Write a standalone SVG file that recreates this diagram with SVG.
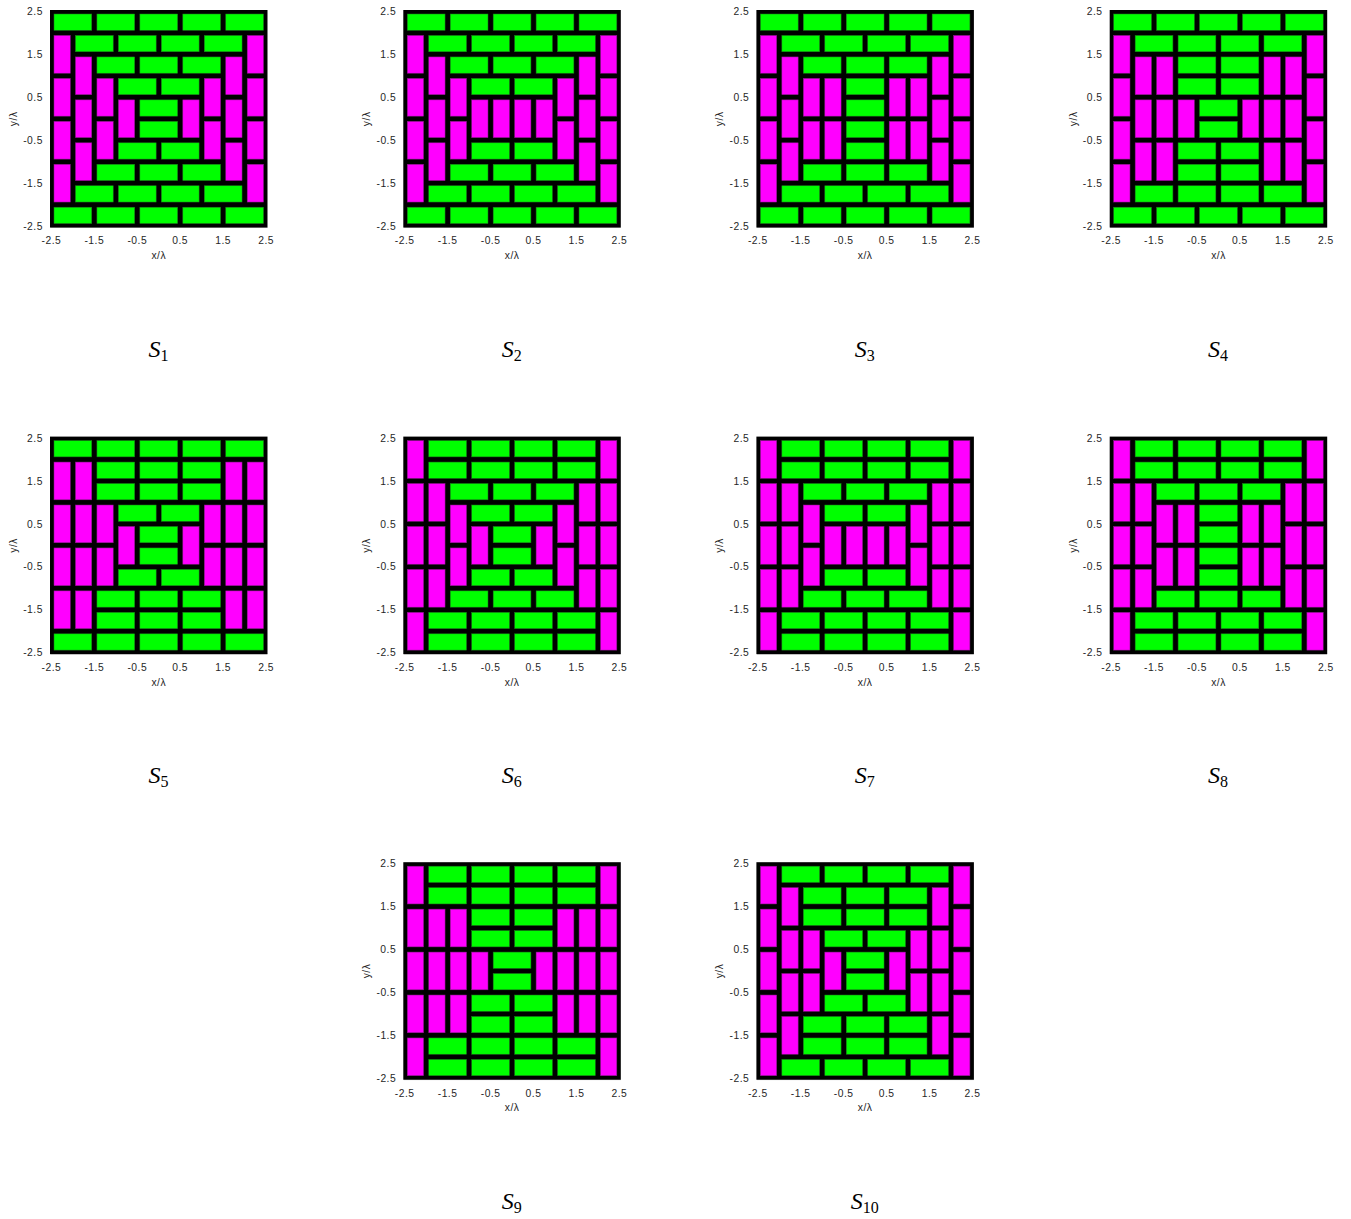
<svg xmlns="http://www.w3.org/2000/svg" xmlns:xlink="http://www.w3.org/1999/xlink" width="1351" height="1219" viewBox="0 0 1351 1219">
<style>
.t{font-family:"Liberation Sans",Arial,sans-serif;font-size:10.3px;letter-spacing:0.5px;fill:#262626}
.yt{text-anchor:end}
.xt{text-anchor:middle}
.lab{font-family:"Liberation Sans",Arial,sans-serif;font-size:10.3px;letter-spacing:0.5px;fill:#262626;text-anchor:middle}
.s{font-family:"Liberation Serif","Times New Roman",serif;font-style:italic;font-size:24px;fill:#000;text-anchor:middle}
.sub{font-style:normal;font-size:16px}
.ax{stroke:#b0b0b0;stroke-width:1;fill:none}
</style>
<defs>
<rect id="h" x="0.121" y="0.121" width="1.758" height="0.758" fill="#00ff00" stroke="#1c7a1c" stroke-width="0.025"/>
<rect id="v" x="0.121" y="0.121" width="0.758" height="1.758" fill="#ff00ff" stroke="#8a1a8a" stroke-width="0.025"/>
<g id="ticks">
<text class="t yt" x="-8.5" y="3.6">2.5</text>
<text class="t yt" x="-8.5" y="46.5">1.5</text>
<text class="t yt" x="-8.5" y="89.5">0.5</text>
<text class="t yt" x="-8.5" y="132.4">-0.5</text>
<text class="t yt" x="-8.5" y="175.4">-1.5</text>
<text class="t yt" x="-8.5" y="218.3">-2.5</text>
<text class="t xt" x="0" y="233">-2.5</text>
<text class="t xt" x="42.9" y="233">-1.5</text>
<text class="t xt" x="85.9" y="233">-0.5</text>
<text class="t xt" x="128.8" y="233">0.5</text>
<text class="t xt" x="171.8" y="233">1.5</text>
<text class="t xt" x="214.7" y="233">2.5</text>
<text class="lab" x="107.4" y="247.8">x/λ</text>
<text class="lab" transform="translate(-34.5,107.4) rotate(-90)">y/λ</text>
<line class="ax" x1="-1" y1="216" x2="216" y2="216"/>
<rect x="-1.4" y="-1.4" width="217.5" height="217.5" fill="#000"/>
</g>
</defs>

<g id="S1" transform="translate(51.4,11.4)">
<use href="#ticks"/>
<text class="s" x="107" y="345.3">S<tspan class="sub" dy="4">1</tspan></text>
<g transform="scale(21.47)">
<use href="#h" x="0" y="0"/><use href="#h" x="2" y="0"/><use href="#h" x="4" y="0"/><use href="#h" x="6" y="0"/><use href="#h" x="8" y="0"/>
<use href="#h" x="1" y="1"/><use href="#h" x="3" y="1"/><use href="#h" x="5" y="1"/><use href="#h" x="7" y="1"/>
<use href="#h" x="2" y="2"/><use href="#h" x="4" y="2"/><use href="#h" x="6" y="2"/>
<use href="#h" x="3" y="3"/><use href="#h" x="5" y="3"/>
<use href="#h" x="4" y="4"/><use href="#h" x="4" y="5"/>
<use href="#h" x="3" y="6"/><use href="#h" x="5" y="6"/>
<use href="#h" x="2" y="7"/><use href="#h" x="4" y="7"/><use href="#h" x="6" y="7"/>
<use href="#h" x="1" y="8"/><use href="#h" x="3" y="8"/><use href="#h" x="5" y="8"/><use href="#h" x="7" y="8"/>
<use href="#h" x="0" y="9"/><use href="#h" x="2" y="9"/><use href="#h" x="4" y="9"/><use href="#h" x="6" y="9"/><use href="#h" x="8" y="9"/>
<use href="#v" x="0" y="1"/><use href="#v" x="9" y="1"/>
<use href="#v" x="1" y="2"/><use href="#v" x="8" y="2"/>
<use href="#v" x="0" y="3"/><use href="#v" x="2" y="3"/><use href="#v" x="7" y="3"/><use href="#v" x="9" y="3"/>
<use href="#v" x="1" y="4"/><use href="#v" x="3" y="4"/><use href="#v" x="6" y="4"/><use href="#v" x="8" y="4"/>
<use href="#v" x="0" y="5"/><use href="#v" x="2" y="5"/><use href="#v" x="7" y="5"/><use href="#v" x="9" y="5"/>
<use href="#v" x="1" y="6"/><use href="#v" x="8" y="6"/>
<use href="#v" x="0" y="7"/><use href="#v" x="9" y="7"/>
</g>
</g>

<g id="S2" transform="translate(404.7,11.4)">
<use href="#ticks"/>
<text class="s" x="107" y="345.3">S<tspan class="sub" dy="4">2</tspan></text>
<g transform="scale(21.47)">
<use href="#h" x="0" y="0"/><use href="#h" x="2" y="0"/><use href="#h" x="4" y="0"/><use href="#h" x="6" y="0"/><use href="#h" x="8" y="0"/>
<use href="#h" x="1" y="1"/><use href="#h" x="3" y="1"/><use href="#h" x="5" y="1"/><use href="#h" x="7" y="1"/>
<use href="#h" x="2" y="2"/><use href="#h" x="4" y="2"/><use href="#h" x="6" y="2"/>
<use href="#h" x="3" y="3"/><use href="#h" x="5" y="3"/>
<use href="#h" x="3" y="6"/><use href="#h" x="5" y="6"/>
<use href="#h" x="2" y="7"/><use href="#h" x="4" y="7"/><use href="#h" x="6" y="7"/>
<use href="#h" x="1" y="8"/><use href="#h" x="3" y="8"/><use href="#h" x="5" y="8"/><use href="#h" x="7" y="8"/>
<use href="#h" x="0" y="9"/><use href="#h" x="2" y="9"/><use href="#h" x="4" y="9"/><use href="#h" x="6" y="9"/><use href="#h" x="8" y="9"/>
<use href="#v" x="0" y="1"/><use href="#v" x="9" y="1"/>
<use href="#v" x="1" y="2"/><use href="#v" x="8" y="2"/>
<use href="#v" x="0" y="3"/><use href="#v" x="2" y="3"/><use href="#v" x="7" y="3"/><use href="#v" x="9" y="3"/>
<use href="#v" x="1" y="4"/><use href="#v" x="3" y="4"/><use href="#v" x="4" y="4"/><use href="#v" x="5" y="4"/><use href="#v" x="6" y="4"/><use href="#v" x="8" y="4"/>
<use href="#v" x="0" y="5"/><use href="#v" x="2" y="5"/><use href="#v" x="7" y="5"/><use href="#v" x="9" y="5"/>
<use href="#v" x="1" y="6"/><use href="#v" x="8" y="6"/>
<use href="#v" x="0" y="7"/><use href="#v" x="9" y="7"/>
</g>
</g>

<g id="S3" transform="translate(757.8,11.4)">
<use href="#ticks"/>
<text class="s" x="107" y="345.3">S<tspan class="sub" dy="4">3</tspan></text>
<g transform="scale(21.47)">
<use href="#h" x="0" y="0"/><use href="#h" x="2" y="0"/><use href="#h" x="4" y="0"/><use href="#h" x="6" y="0"/><use href="#h" x="8" y="0"/>
<use href="#h" x="1" y="1"/><use href="#h" x="3" y="1"/><use href="#h" x="5" y="1"/><use href="#h" x="7" y="1"/>
<use href="#h" x="2" y="2"/><use href="#h" x="4" y="2"/><use href="#h" x="6" y="2"/>
<use href="#h" x="4" y="3"/><use href="#h" x="4" y="4"/><use href="#h" x="4" y="5"/><use href="#h" x="4" y="6"/>
<use href="#h" x="2" y="7"/><use href="#h" x="4" y="7"/><use href="#h" x="6" y="7"/>
<use href="#h" x="1" y="8"/><use href="#h" x="3" y="8"/><use href="#h" x="5" y="8"/><use href="#h" x="7" y="8"/>
<use href="#h" x="0" y="9"/><use href="#h" x="2" y="9"/><use href="#h" x="4" y="9"/><use href="#h" x="6" y="9"/><use href="#h" x="8" y="9"/>
<use href="#v" x="0" y="1"/><use href="#v" x="9" y="1"/>
<use href="#v" x="1" y="2"/><use href="#v" x="8" y="2"/>
<use href="#v" x="0" y="3"/><use href="#v" x="2" y="3"/><use href="#v" x="3" y="3"/><use href="#v" x="6" y="3"/><use href="#v" x="7" y="3"/><use href="#v" x="9" y="3"/>
<use href="#v" x="1" y="4"/><use href="#v" x="8" y="4"/>
<use href="#v" x="0" y="5"/><use href="#v" x="2" y="5"/><use href="#v" x="3" y="5"/><use href="#v" x="6" y="5"/><use href="#v" x="7" y="5"/><use href="#v" x="9" y="5"/>
<use href="#v" x="1" y="6"/><use href="#v" x="8" y="6"/>
<use href="#v" x="0" y="7"/><use href="#v" x="9" y="7"/>
</g>
</g>

<g id="S4" transform="translate(1111.1,11.4)">
<use href="#ticks"/>
<text class="s" x="107" y="345.3">S<tspan class="sub" dy="4">4</tspan></text>
<g transform="scale(21.47)">
<use href="#h" x="0" y="0"/><use href="#h" x="2" y="0"/><use href="#h" x="4" y="0"/><use href="#h" x="6" y="0"/><use href="#h" x="8" y="0"/>
<use href="#h" x="1" y="1"/><use href="#h" x="3" y="1"/><use href="#h" x="5" y="1"/><use href="#h" x="7" y="1"/>
<use href="#h" x="3" y="2"/><use href="#h" x="5" y="2"/>
<use href="#h" x="3" y="3"/><use href="#h" x="5" y="3"/>
<use href="#h" x="4" y="4"/><use href="#h" x="4" y="5"/>
<use href="#h" x="3" y="6"/><use href="#h" x="5" y="6"/>
<use href="#h" x="3" y="7"/><use href="#h" x="5" y="7"/>
<use href="#h" x="1" y="8"/><use href="#h" x="3" y="8"/><use href="#h" x="5" y="8"/><use href="#h" x="7" y="8"/>
<use href="#h" x="0" y="9"/><use href="#h" x="2" y="9"/><use href="#h" x="4" y="9"/><use href="#h" x="6" y="9"/><use href="#h" x="8" y="9"/>
<use href="#v" x="0" y="1"/><use href="#v" x="9" y="1"/>
<use href="#v" x="1" y="2"/><use href="#v" x="2" y="2"/><use href="#v" x="7" y="2"/><use href="#v" x="8" y="2"/>
<use href="#v" x="0" y="3"/><use href="#v" x="9" y="3"/>
<use href="#v" x="1" y="4"/><use href="#v" x="2" y="4"/><use href="#v" x="3" y="4"/><use href="#v" x="6" y="4"/><use href="#v" x="7" y="4"/><use href="#v" x="8" y="4"/>
<use href="#v" x="0" y="5"/><use href="#v" x="9" y="5"/>
<use href="#v" x="1" y="6"/><use href="#v" x="2" y="6"/><use href="#v" x="7" y="6"/><use href="#v" x="8" y="6"/>
<use href="#v" x="0" y="7"/><use href="#v" x="9" y="7"/>
</g>
</g>

<g id="S5" transform="translate(51.4,438)">
<use href="#ticks"/>
<text class="s" x="107" y="345.3">S<tspan class="sub" dy="4">5</tspan></text>
<g transform="scale(21.47)">
<use href="#h" x="0" y="0"/><use href="#h" x="2" y="0"/><use href="#h" x="4" y="0"/><use href="#h" x="6" y="0"/><use href="#h" x="8" y="0"/>
<use href="#h" x="2" y="1"/><use href="#h" x="4" y="1"/><use href="#h" x="6" y="1"/>
<use href="#h" x="2" y="2"/><use href="#h" x="4" y="2"/><use href="#h" x="6" y="2"/>
<use href="#h" x="3" y="3"/><use href="#h" x="5" y="3"/>
<use href="#h" x="4" y="4"/><use href="#h" x="4" y="5"/>
<use href="#h" x="3" y="6"/><use href="#h" x="5" y="6"/>
<use href="#h" x="2" y="7"/><use href="#h" x="4" y="7"/><use href="#h" x="6" y="7"/>
<use href="#h" x="2" y="8"/><use href="#h" x="4" y="8"/><use href="#h" x="6" y="8"/>
<use href="#h" x="0" y="9"/><use href="#h" x="2" y="9"/><use href="#h" x="4" y="9"/><use href="#h" x="6" y="9"/><use href="#h" x="8" y="9"/>
<use href="#v" x="0" y="1"/><use href="#v" x="1" y="1"/><use href="#v" x="8" y="1"/><use href="#v" x="9" y="1"/>
<use href="#v" x="0" y="3"/><use href="#v" x="1" y="3"/><use href="#v" x="2" y="3"/><use href="#v" x="7" y="3"/><use href="#v" x="8" y="3"/><use href="#v" x="9" y="3"/>
<use href="#v" x="3" y="4"/><use href="#v" x="6" y="4"/>
<use href="#v" x="0" y="5"/><use href="#v" x="1" y="5"/><use href="#v" x="2" y="5"/><use href="#v" x="7" y="5"/><use href="#v" x="8" y="5"/><use href="#v" x="9" y="5"/>
<use href="#v" x="0" y="7"/><use href="#v" x="1" y="7"/><use href="#v" x="8" y="7"/><use href="#v" x="9" y="7"/>
</g>
</g>

<g id="S6" transform="translate(404.7,438)">
<use href="#ticks"/>
<text class="s" x="107" y="345.3">S<tspan class="sub" dy="4">6</tspan></text>
<g transform="scale(21.47)">
<use href="#h" x="1" y="0"/><use href="#h" x="3" y="0"/><use href="#h" x="5" y="0"/><use href="#h" x="7" y="0"/>
<use href="#h" x="1" y="1"/><use href="#h" x="3" y="1"/><use href="#h" x="5" y="1"/><use href="#h" x="7" y="1"/>
<use href="#h" x="2" y="2"/><use href="#h" x="4" y="2"/><use href="#h" x="6" y="2"/>
<use href="#h" x="3" y="3"/><use href="#h" x="5" y="3"/>
<use href="#h" x="4" y="4"/><use href="#h" x="4" y="5"/>
<use href="#h" x="3" y="6"/><use href="#h" x="5" y="6"/>
<use href="#h" x="2" y="7"/><use href="#h" x="4" y="7"/><use href="#h" x="6" y="7"/>
<use href="#h" x="1" y="8"/><use href="#h" x="3" y="8"/><use href="#h" x="5" y="8"/><use href="#h" x="7" y="8"/>
<use href="#h" x="1" y="9"/><use href="#h" x="3" y="9"/><use href="#h" x="5" y="9"/><use href="#h" x="7" y="9"/>
<use href="#v" x="0" y="0"/><use href="#v" x="9" y="0"/>
<use href="#v" x="0" y="2"/><use href="#v" x="1" y="2"/><use href="#v" x="8" y="2"/><use href="#v" x="9" y="2"/>
<use href="#v" x="2" y="3"/><use href="#v" x="7" y="3"/>
<use href="#v" x="0" y="4"/><use href="#v" x="1" y="4"/><use href="#v" x="3" y="4"/><use href="#v" x="6" y="4"/><use href="#v" x="8" y="4"/><use href="#v" x="9" y="4"/>
<use href="#v" x="2" y="5"/><use href="#v" x="7" y="5"/>
<use href="#v" x="0" y="6"/><use href="#v" x="1" y="6"/><use href="#v" x="8" y="6"/><use href="#v" x="9" y="6"/>
<use href="#v" x="0" y="8"/><use href="#v" x="9" y="8"/>
</g>
</g>

<g id="S7" transform="translate(757.8,438)">
<use href="#ticks"/>
<text class="s" x="107" y="345.3">S<tspan class="sub" dy="4">7</tspan></text>
<g transform="scale(21.47)">
<use href="#h" x="1" y="0"/><use href="#h" x="3" y="0"/><use href="#h" x="5" y="0"/><use href="#h" x="7" y="0"/>
<use href="#h" x="1" y="1"/><use href="#h" x="3" y="1"/><use href="#h" x="5" y="1"/><use href="#h" x="7" y="1"/>
<use href="#h" x="2" y="2"/><use href="#h" x="4" y="2"/><use href="#h" x="6" y="2"/>
<use href="#h" x="3" y="3"/><use href="#h" x="5" y="3"/>
<use href="#h" x="3" y="6"/><use href="#h" x="5" y="6"/>
<use href="#h" x="2" y="7"/><use href="#h" x="4" y="7"/><use href="#h" x="6" y="7"/>
<use href="#h" x="1" y="8"/><use href="#h" x="3" y="8"/><use href="#h" x="5" y="8"/><use href="#h" x="7" y="8"/>
<use href="#h" x="1" y="9"/><use href="#h" x="3" y="9"/><use href="#h" x="5" y="9"/><use href="#h" x="7" y="9"/>
<use href="#v" x="0" y="0"/><use href="#v" x="9" y="0"/>
<use href="#v" x="0" y="2"/><use href="#v" x="1" y="2"/><use href="#v" x="8" y="2"/><use href="#v" x="9" y="2"/>
<use href="#v" x="2" y="3"/><use href="#v" x="7" y="3"/>
<use href="#v" x="0" y="4"/><use href="#v" x="1" y="4"/><use href="#v" x="3" y="4"/><use href="#v" x="4" y="4"/><use href="#v" x="5" y="4"/><use href="#v" x="6" y="4"/><use href="#v" x="8" y="4"/><use href="#v" x="9" y="4"/>
<use href="#v" x="2" y="5"/><use href="#v" x="7" y="5"/>
<use href="#v" x="0" y="6"/><use href="#v" x="1" y="6"/><use href="#v" x="8" y="6"/><use href="#v" x="9" y="6"/>
<use href="#v" x="0" y="8"/><use href="#v" x="9" y="8"/>
</g>
</g>

<g id="S8" transform="translate(1111.1,438)">
<use href="#ticks"/>
<text class="s" x="107" y="345.3">S<tspan class="sub" dy="4">8</tspan></text>
<g transform="scale(21.47)">
<use href="#h" x="1" y="0"/><use href="#h" x="3" y="0"/><use href="#h" x="5" y="0"/><use href="#h" x="7" y="0"/>
<use href="#h" x="1" y="1"/><use href="#h" x="3" y="1"/><use href="#h" x="5" y="1"/><use href="#h" x="7" y="1"/>
<use href="#h" x="2" y="2"/><use href="#h" x="4" y="2"/><use href="#h" x="6" y="2"/>
<use href="#h" x="4" y="3"/><use href="#h" x="4" y="4"/><use href="#h" x="4" y="5"/><use href="#h" x="4" y="6"/>
<use href="#h" x="2" y="7"/><use href="#h" x="4" y="7"/><use href="#h" x="6" y="7"/>
<use href="#h" x="1" y="8"/><use href="#h" x="3" y="8"/><use href="#h" x="5" y="8"/><use href="#h" x="7" y="8"/>
<use href="#h" x="1" y="9"/><use href="#h" x="3" y="9"/><use href="#h" x="5" y="9"/><use href="#h" x="7" y="9"/>
<use href="#v" x="0" y="0"/><use href="#v" x="9" y="0"/>
<use href="#v" x="0" y="2"/><use href="#v" x="1" y="2"/><use href="#v" x="8" y="2"/><use href="#v" x="9" y="2"/>
<use href="#v" x="2" y="3"/><use href="#v" x="3" y="3"/><use href="#v" x="6" y="3"/><use href="#v" x="7" y="3"/>
<use href="#v" x="0" y="4"/><use href="#v" x="1" y="4"/><use href="#v" x="8" y="4"/><use href="#v" x="9" y="4"/>
<use href="#v" x="2" y="5"/><use href="#v" x="3" y="5"/><use href="#v" x="6" y="5"/><use href="#v" x="7" y="5"/>
<use href="#v" x="0" y="6"/><use href="#v" x="1" y="6"/><use href="#v" x="8" y="6"/><use href="#v" x="9" y="6"/>
<use href="#v" x="0" y="8"/><use href="#v" x="9" y="8"/>
</g>
</g>

<g id="S9" transform="translate(404.7,863.6)">
<use href="#ticks"/>
<text class="s" x="107" y="345.3">S<tspan class="sub" dy="4">9</tspan></text>
<g transform="scale(21.47)">
<use href="#h" x="1" y="0"/><use href="#h" x="3" y="0"/><use href="#h" x="5" y="0"/><use href="#h" x="7" y="0"/>
<use href="#h" x="1" y="1"/><use href="#h" x="3" y="1"/><use href="#h" x="5" y="1"/><use href="#h" x="7" y="1"/>
<use href="#h" x="3" y="2"/><use href="#h" x="5" y="2"/>
<use href="#h" x="3" y="3"/><use href="#h" x="5" y="3"/>
<use href="#h" x="4" y="4"/><use href="#h" x="4" y="5"/>
<use href="#h" x="3" y="6"/><use href="#h" x="5" y="6"/>
<use href="#h" x="3" y="7"/><use href="#h" x="5" y="7"/>
<use href="#h" x="1" y="8"/><use href="#h" x="3" y="8"/><use href="#h" x="5" y="8"/><use href="#h" x="7" y="8"/>
<use href="#h" x="1" y="9"/><use href="#h" x="3" y="9"/><use href="#h" x="5" y="9"/><use href="#h" x="7" y="9"/>
<use href="#v" x="0" y="0"/><use href="#v" x="9" y="0"/>
<use href="#v" x="0" y="2"/><use href="#v" x="1" y="2"/><use href="#v" x="2" y="2"/><use href="#v" x="7" y="2"/><use href="#v" x="8" y="2"/><use href="#v" x="9" y="2"/>
<use href="#v" x="0" y="4"/><use href="#v" x="1" y="4"/><use href="#v" x="2" y="4"/><use href="#v" x="3" y="4"/><use href="#v" x="6" y="4"/><use href="#v" x="7" y="4"/><use href="#v" x="8" y="4"/><use href="#v" x="9" y="4"/>
<use href="#v" x="0" y="6"/><use href="#v" x="1" y="6"/><use href="#v" x="2" y="6"/><use href="#v" x="7" y="6"/><use href="#v" x="8" y="6"/><use href="#v" x="9" y="6"/>
<use href="#v" x="0" y="8"/><use href="#v" x="9" y="8"/>
</g>
</g>

<g id="S10" transform="translate(757.8,863.6)">
<use href="#ticks"/>
<text class="s" x="107" y="345.3">S<tspan class="sub" dy="4">10</tspan></text>
<g transform="scale(21.47)">
<use href="#h" x="1" y="0"/><use href="#h" x="3" y="0"/><use href="#h" x="5" y="0"/><use href="#h" x="7" y="0"/>
<use href="#h" x="2" y="1"/><use href="#h" x="4" y="1"/><use href="#h" x="6" y="1"/>
<use href="#h" x="2" y="2"/><use href="#h" x="4" y="2"/><use href="#h" x="6" y="2"/>
<use href="#h" x="3" y="3"/><use href="#h" x="5" y="3"/>
<use href="#h" x="4" y="4"/><use href="#h" x="4" y="5"/>
<use href="#h" x="3" y="6"/><use href="#h" x="5" y="6"/>
<use href="#h" x="2" y="7"/><use href="#h" x="4" y="7"/><use href="#h" x="6" y="7"/>
<use href="#h" x="2" y="8"/><use href="#h" x="4" y="8"/><use href="#h" x="6" y="8"/>
<use href="#h" x="1" y="9"/><use href="#h" x="3" y="9"/><use href="#h" x="5" y="9"/><use href="#h" x="7" y="9"/>
<use href="#v" x="0" y="0"/><use href="#v" x="9" y="0"/>
<use href="#v" x="1" y="1"/><use href="#v" x="8" y="1"/>
<use href="#v" x="0" y="2"/><use href="#v" x="9" y="2"/>
<use href="#v" x="1" y="3"/><use href="#v" x="2" y="3"/><use href="#v" x="7" y="3"/><use href="#v" x="8" y="3"/>
<use href="#v" x="0" y="4"/><use href="#v" x="3" y="4"/><use href="#v" x="6" y="4"/><use href="#v" x="9" y="4"/>
<use href="#v" x="1" y="5"/><use href="#v" x="2" y="5"/><use href="#v" x="7" y="5"/><use href="#v" x="8" y="5"/>
<use href="#v" x="0" y="6"/><use href="#v" x="9" y="6"/>
<use href="#v" x="1" y="7"/><use href="#v" x="8" y="7"/>
<use href="#v" x="0" y="8"/><use href="#v" x="9" y="8"/>
</g>
</g>
<g id="connectors"/>
</svg>
